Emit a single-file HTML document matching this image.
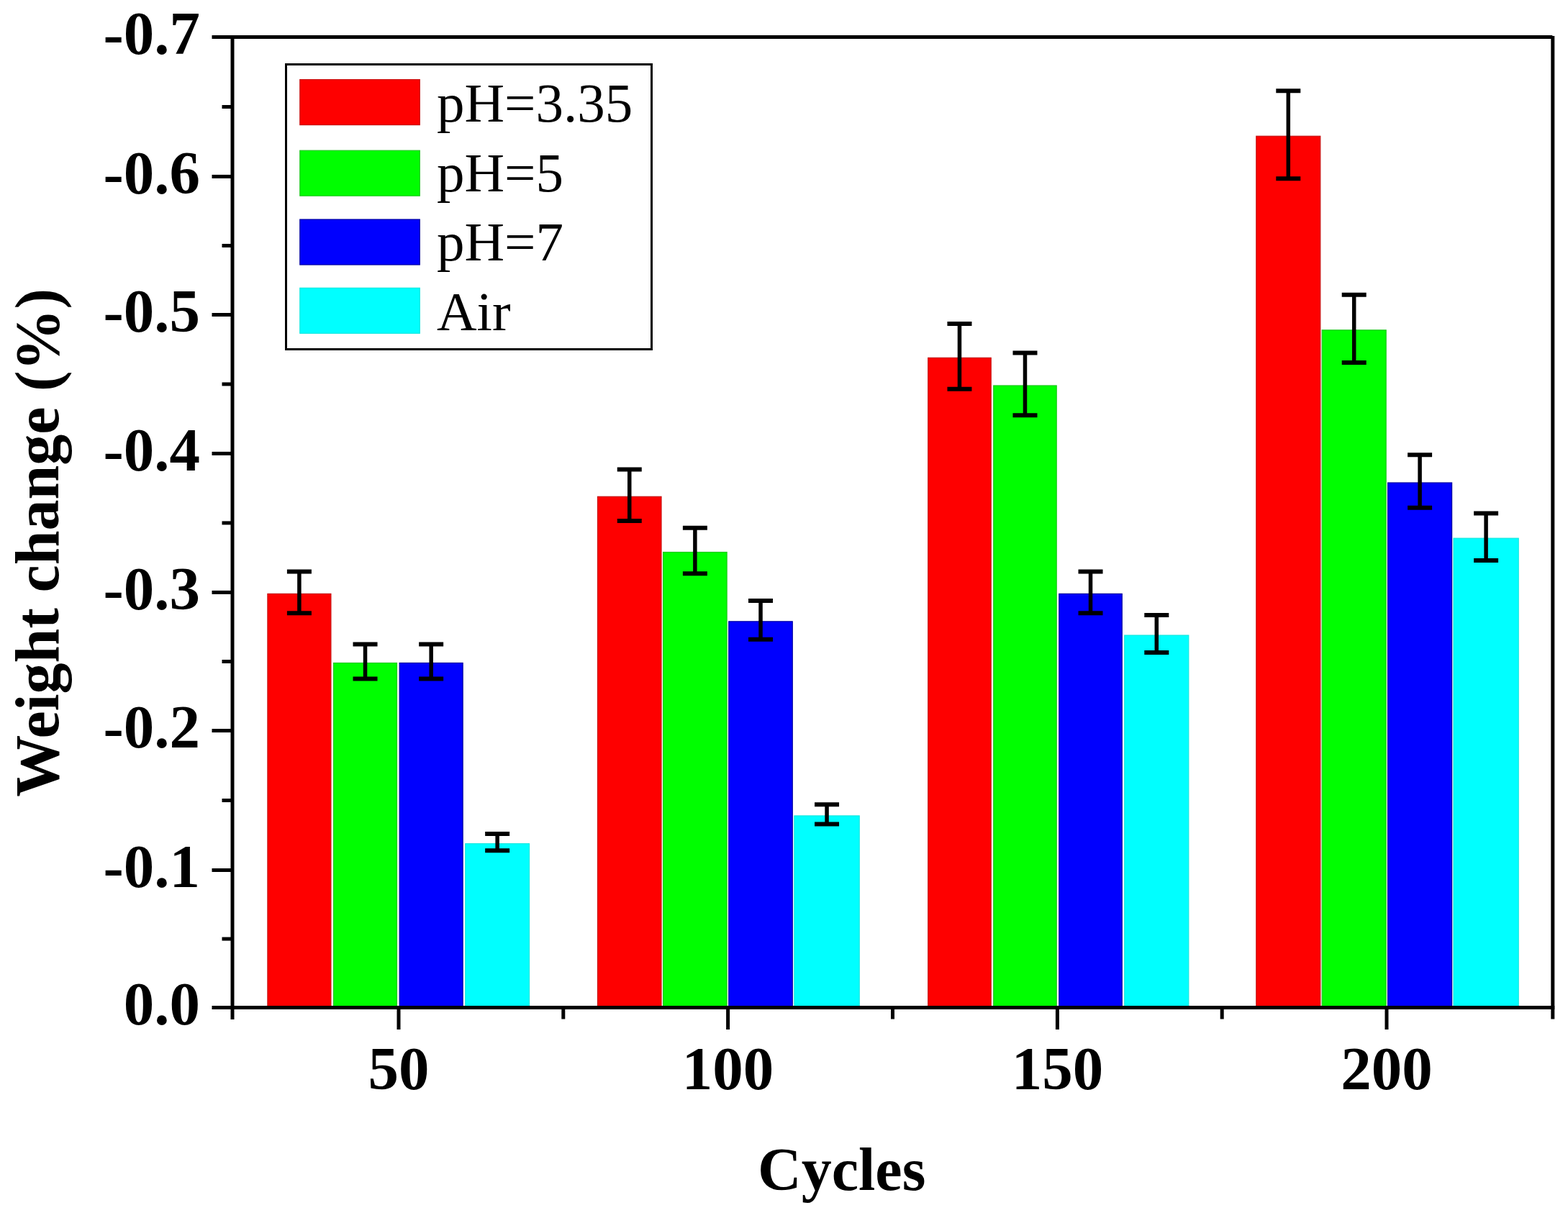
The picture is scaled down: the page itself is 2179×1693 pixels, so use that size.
<!DOCTYPE html><html><head><meta charset="utf-8"><title>Weight change vs Cycles</title><style>html,body{margin:0;padding:0;background:#fff;overflow:hidden;}svg{display:block;}</style></head><body>
<svg width="2179" height="1693" viewBox="0 0 2179 1693">
<rect width="2179" height="1693" fill="#fff"/>
<rect x="371.90" y="825.40" width="88.00" height="575.20" fill="#fe0000" stroke="#c81010" stroke-width="1.2"/>
<rect x="463.53" y="921.50" width="88.00" height="479.10" fill="#00fe00" stroke="#20c820" stroke-width="1.2"/>
<rect x="555.17" y="921.50" width="88.00" height="479.10" fill="#0000fe" stroke="#0000a0" stroke-width="1.2"/>
<rect x="646.80" y="1172.72" width="88.70" height="227.88" fill="#00ffff" stroke="#10e8e0" stroke-width="1.2"/>
<rect x="830.50" y="690.30" width="88.50" height="710.30" fill="#fe0000" stroke="#c81010" stroke-width="1.2"/>
<rect x="921.63" y="767.50" width="88.50" height="633.10" fill="#00fe00" stroke="#20c820" stroke-width="1.2"/>
<rect x="1012.77" y="863.84" width="88.50" height="536.76" fill="#0000fe" stroke="#0000a0" stroke-width="1.2"/>
<rect x="1103.90" y="1133.94" width="90.30" height="266.66" fill="#00ffff" stroke="#10e8e0" stroke-width="1.2"/>
<rect x="1289.70" y="497.37" width="87.50" height="903.23" fill="#fe0000" stroke="#c81010" stroke-width="1.2"/>
<rect x="1380.73" y="535.95" width="87.50" height="864.65" fill="#00fe00" stroke="#20c820" stroke-width="1.2"/>
<rect x="1471.77" y="825.40" width="87.50" height="575.20" fill="#0000fe" stroke="#0000a0" stroke-width="1.2"/>
<rect x="1562.80" y="883.06" width="89.00" height="517.54" fill="#00ffff" stroke="#10e8e0" stroke-width="1.2"/>
<rect x="1745.80" y="189.26" width="89.00" height="1211.34" fill="#fe0000" stroke="#c81010" stroke-width="1.2"/>
<rect x="1837.20" y="458.79" width="89.00" height="941.81" fill="#00fe00" stroke="#20c820" stroke-width="1.2"/>
<rect x="1928.60" y="671.00" width="89.00" height="729.60" fill="#0000fe" stroke="#0000a0" stroke-width="1.2"/>
<rect x="2020.00" y="748.20" width="90.20" height="652.40" fill="#00ffff" stroke="#10e8e0" stroke-width="1.2"/>
<g stroke="#000" fill="none">
<path d="M415.90 794.45V852.23" stroke-width="5.5"/>
<path d="M398.90 794.45H432.90M398.90 852.23H432.90" stroke-width="6"/>
<path d="M507.53 895.47V943.53" stroke-width="5.5"/>
<path d="M490.53 895.47H524.53M490.53 943.53H524.53" stroke-width="6"/>
<path d="M599.17 895.47V943.53" stroke-width="5.5"/>
<path d="M582.17 895.47H616.17M582.17 943.53H616.17" stroke-width="6"/>
<path d="M691.15 1159.09V1182.35" stroke-width="5.5"/>
<path d="M674.15 1159.09H708.15M674.15 1182.35H708.15" stroke-width="6"/>
<path d="M874.75 652.60V724.00" stroke-width="5.5"/>
<path d="M857.75 652.60H891.75M857.75 724.00H891.75" stroke-width="6"/>
<path d="M965.88 733.65V797.34" stroke-width="5.5"/>
<path d="M948.88 733.65H982.88M948.88 797.34H982.88" stroke-width="6"/>
<path d="M1057.02 834.93V888.75" stroke-width="5.5"/>
<path d="M1040.02 834.93H1074.02M1040.02 888.75H1074.02" stroke-width="6"/>
<path d="M1149.05 1118.37V1145.51" stroke-width="5.5"/>
<path d="M1132.05 1118.37H1166.05M1132.05 1145.51H1166.05" stroke-width="6"/>
<path d="M1333.45 450.04V540.70" stroke-width="5.5"/>
<path d="M1316.45 450.04H1350.45M1316.45 540.70H1350.45" stroke-width="6"/>
<path d="M1424.48 490.55V577.35" stroke-width="5.5"/>
<path d="M1407.48 490.55H1441.48M1407.48 577.35H1441.48" stroke-width="6"/>
<path d="M1515.52 794.45V852.23" stroke-width="5.5"/>
<path d="M1498.52 794.45H1532.52M1498.52 852.23H1532.52" stroke-width="6"/>
<path d="M1607.30 855.11V907.01" stroke-width="5.5"/>
<path d="M1590.30 855.11H1624.30M1590.30 907.01H1624.30" stroke-width="6"/>
<path d="M1790.30 126.21V248.28" stroke-width="5.5"/>
<path d="M1773.30 126.21H1807.30M1773.30 248.28H1807.30" stroke-width="6"/>
<path d="M1881.70 409.65V504.05" stroke-width="5.5"/>
<path d="M1864.70 409.65H1898.70M1864.70 504.05H1898.70" stroke-width="6"/>
<path d="M1973.10 632.33V705.67" stroke-width="5.5"/>
<path d="M1956.10 632.33H1990.10M1956.10 705.67H1990.10" stroke-width="6"/>
<path d="M2065.10 713.39V779.01" stroke-width="5.5"/>
<path d="M2048.10 713.39H2082.10M2048.10 779.01H2082.10" stroke-width="6"/>
</g>
<g stroke="#000" stroke-width="5" fill="none">
<path d="M294.5 51.6H2157.3"/>
<path d="M294.5 1400.6H2160.3"/>
<path d="M323.0 49.1V1417"/>
<path d="M2157.8 50.1V1416.5"/>
<path d="M294.5 1209.50H323.0"/>
<path d="M294.5 1015.60H323.0"/>
<path d="M294.5 823.40H323.0"/>
<path d="M294.5 630.40H323.0"/>
<path d="M294.5 437.50H323.0"/>
<path d="M294.5 245.40H323.0"/>
<path d="M308.5 1305.05H323.0"/>
<path d="M308.5 1112.55H323.0"/>
<path d="M308.5 919.50H323.0"/>
<path d="M308.5 726.90H323.0"/>
<path d="M308.5 533.95H323.0"/>
<path d="M308.5 341.45H323.0"/>
<path d="M308.5 148.50H323.0"/>
<path d="M554.0 1400.6V1431"/>
<path d="M1011.6 1400.6V1431"/>
<path d="M1469.4 1400.6V1431"/>
<path d="M1927.0 1400.6V1431"/>
<path d="M782.8 1400.6V1416.5"/>
<path d="M1240.5 1400.6V1416.5"/>
<path d="M1698.2 1400.6V1416.5"/>
</g>
<g font-family="Liberation Serif, Times New Roman, serif" font-weight="bold" font-size="85" fill="#000" text-anchor="end">
<text x="278" y="1424.30">0.0</text>
<text x="278" y="1233.20">-0.1</text>
<text x="278" y="1039.30">-0.2</text>
<text x="278" y="847.10">-0.3</text>
<text x="278" y="654.10">-0.4</text>
<text x="278" y="461.20">-0.5</text>
<text x="278" y="269.10">-0.6</text>
<text x="278" y="75.30">-0.7</text>
</g>
<g font-family="Liberation Serif, Times New Roman, serif" font-weight="bold" font-size="85" fill="#000" text-anchor="middle">
<text x="554.0" y="1513.5">50</text>
<text x="1011.6" y="1513.5">100</text>
<text x="1469.4" y="1513.5">150</text>
<text x="1927.0" y="1513.5">200</text>
</g>
<text x="1169.7" y="1653.6" font-family="Liberation Serif, Times New Roman, serif" font-weight="bold" font-size="84" text-anchor="middle">Cycles</text>
<text transform="translate(81,754.3) rotate(-90)" font-family="Liberation Serif, Times New Roman, serif" font-weight="bold" font-size="86" text-anchor="middle">Weight change (%)</text>
<rect x="397.5" y="89.5" width="508" height="396" fill="#fff" stroke="#000" stroke-width="3"/>
<rect x="416.8" y="110.60" width="166.5" height="63" fill="#fe0000" stroke="#c81010" stroke-width="1.2"/>
<text x="607" y="169.10" font-family="Liberation Serif, Times New Roman, serif" font-size="77">pH=3.35</text>
<rect x="416.8" y="209.20" width="166.5" height="63" fill="#00fe00" stroke="#20c820" stroke-width="1.2"/>
<text x="607" y="265.60" font-family="Liberation Serif, Times New Roman, serif" font-size="77">pH=5</text>
<rect x="416.8" y="305.00" width="166.5" height="63" fill="#0000fe" stroke="#0000a0" stroke-width="1.2"/>
<text x="607" y="362.10" font-family="Liberation Serif, Times New Roman, serif" font-size="77">pH=7</text>
<rect x="416.8" y="400.30" width="166.5" height="63" fill="#00ffff" stroke="#10e8e0" stroke-width="1.2"/>
<text x="607" y="458.60" font-family="Liberation Serif, Times New Roman, serif" font-size="77">Air</text>
</svg></body></html>
